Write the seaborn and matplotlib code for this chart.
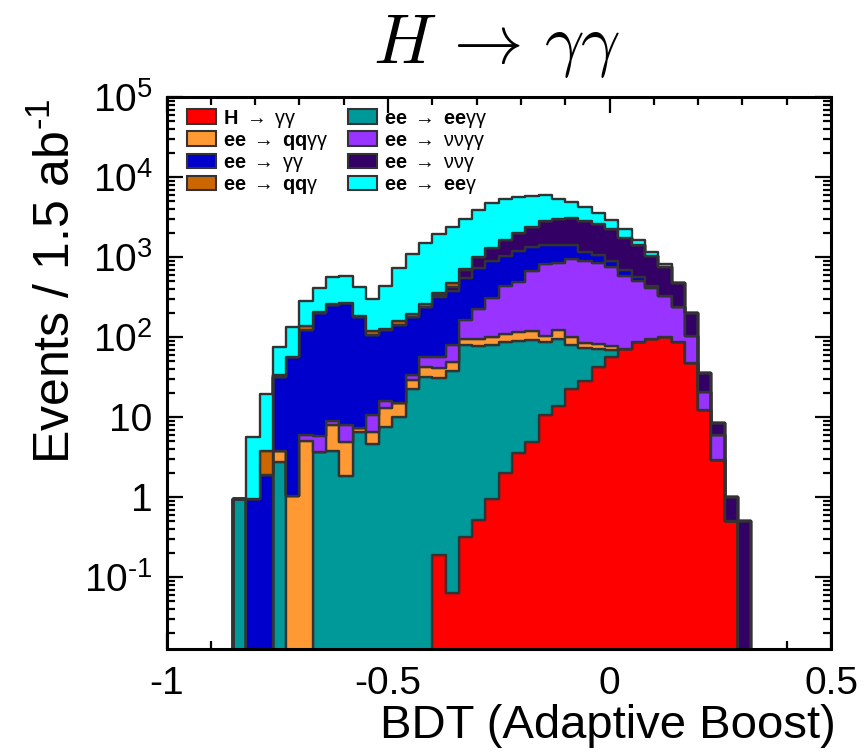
import numpy as np
import pandas as pd
import matplotlib
matplotlib.use("Agg")
import matplotlib.pyplot as plt
import seaborn as sns
from matplotlib.patches import Patch
from matplotlib.ticker import MultipleLocator, LogLocator, FixedLocator, FixedFormatter, NullFormatter

# ---------------- data (events per bin, bins of 0.03 from -0.85 to 0.32) ----------------
bin_width = 0.03
x_min, x_max = -1.0, 0.5
first_bin_low = -0.85

h_gg = [0] * 15 + [0.19, 0.063, 0.316, 0.52, 0.95, 2.0, 3.6, 4.9, 10.7, 13.8, 22.4, 28.7,
                   42.2, 57.5, 72, 88, 95, 101, 88, 48.1, 12.3, 2.9, 0.51, 0]
ee_eegg = [0.95, 0, 0, 2.79, 0, 0, 3.72, 3.8, 1.86, 6.6, 4.7, 7.5, 10.2, 22.4, 32.2, 30.8,
           37.9, 78.7, 76.5, 79, 86, 87.1, 87.6, 77.3, 80.6, 56.6, 45.3, 28.6, 12] + [0] * 10
ee_qqgg = [0, 0, 0, 1.0, 1.04, 5.1, 0, 4.1, 3.04, 0.7, 1.9, 5.5, 5.0, 6.9, 10.8, 10.5, 11.5,
           17, 18, 22, 22, 25.3, 28.5, 17, 30.6, 23, 12, 12.2, 8.5] + [0] * 10
ee_nngg = [0, 0, 0, 0, 0, 0.9, 2.08, 1.17, 3.1, 0, 4.2, 2.8, 0, 4.5, 14.5, 14.5, 31.5, 67,
           130, 208, 323, 379, 556, 724, 723, 846, 804, 770, 678, 505, 422, 315, 229, 148,
           55.9, 8.6, 3.1, 0, 0]
ee_gg = [0, 0.95, 1.9, 28.4, 56.2, 119, 194, 246, 260, 173, 97, 108, 127, 144, 182, 259,
         294, 383, 504, 593, 610, 692, 680, 591, 592, 457, 260, 216, 143, 117, 52, 28,
         0, 0, 0, 0, 0, 0, 0]
ee_nng = [0] * 15 + [20, 50, 144, 271, 404, 587, 808, 1056, 1464, 1557, 1667, 1665, 1528,
                     1351, 1066, 863, 600, 427, 237, 99, 15.2, 2.4, 0.49, 0.51]
ee_qqg = [0, 0, 1.92, 1.8, 0, 13, 5, 7, 4, 4, 12, 4, 16, 17, 25, 23, 56, 15] + [0] * 21
ee_eeg = [0, 4.65, 15.6, 41, 77, 149, 205, 303, 304, 241, 182, 309, 582, 905, 1265, 1597,
          1932, 2280, 2860, 3425, 3700, 3645, 3421, 3126, 2403, 1858, 1415, 951, 700, 480,
          235, 137, 67] + [0] * 6

# stacking order: bottom -> top
proc_names = ["H_gg", "ee_eegg", "ee_qqgg", "ee_nngg", "ee_gg", "ee_nng", "ee_qqg", "ee_eeg"]
proc_values = [h_gg, ee_eegg, ee_qqgg, ee_nngg, ee_gg, ee_nng, ee_qqg, ee_eeg]
proc_colors = ["#ff0000", "#009999", "#ff9933", "#9933ff", "#0000cc", "#330066", "#cc6600", "#00ffff"]
proc_labels = [r"$\mathbf{H}\ \rightarrow\ \mathrm{\gamma\gamma}$",
               r"$\mathbf{ee}\ \rightarrow\ \mathbf{ee}\mathrm{\gamma\gamma}$",
               r"$\mathbf{ee}\ \rightarrow\ \mathbf{qq}\mathrm{\gamma\gamma}$",
               r"$\mathbf{ee}\ \rightarrow\ \mathrm{\nu\nu\gamma\gamma}$",
               r"$\mathbf{ee}\ \rightarrow\ \mathrm{\gamma\gamma}$",
               r"$\mathbf{ee}\ \rightarrow\ \mathrm{\nu\nu\gamma}$",
               r"$\mathbf{ee}\ \rightarrow\ \mathbf{qq}\mathrm{\gamma}$",
               r"$\mathbf{ee}\ \rightarrow\ \mathbf{ee}\mathrm{\gamma}$"]

# ---------------- build table ----------------
n_bins = len(h_gg)
centers = first_bin_low + (np.arange(n_bins) + 0.5) * bin_width
rows = []
for name, vals in zip(proc_names, proc_values):
    for c, v in zip(centers, vals):
        rows.append({"x": c, "w": v, "process": name})
df = pd.DataFrame(rows)

# ---------------- style ----------------
sns.set_theme(style="ticks")
plt.rcParams["font.family"] = ["Liberation Sans", "DejaVu Sans"]
plt.rcParams["mathtext.fontset"] = "custom"
plt.rcParams["mathtext.rm"] = "Liberation Sans"
plt.rcParams["mathtext.it"] = "Liberation Sans:italic"
plt.rcParams["mathtext.bf"] = "Liberation Sans:bold"
plt.rcParams["text.color"] = "black"
plt.rcParams["axes.labelcolor"] = "black"
plt.rcParams["legend.labelcolor"] = "black"

fig = plt.figure(figsize=(8.64, 7.54), dpi=100)
ax = fig.add_axes([166.5 / 864, 1 - 649.3 / 754, (831 - 166.5) / 864, (649.3 - 97.3) / 754])

palette = dict(zip(proc_names, proc_colors))
sns.histplot(data=df, x="x", weights="w", hue="process", hue_order=proc_names[::-1],
             binwidth=bin_width, binrange=(x_min, x_max), multiple="stack", element="step",
             fill=True, palette=palette, alpha=1.0, edgecolor="#333333", linewidth=1.7,
             legend=False, ax=ax)

ax.set_yscale("log")
ax.set_xlim(x_min, x_max)
ax.set_ylim(10 ** -1.9, 1e5)
ax.set_xlabel("")
ax.set_ylabel("")

# ticks
xt = [-1, -0.5, 0, 0.5]
ax.xaxis.set_major_locator(FixedLocator(xt))
ax.xaxis.set_major_formatter(FixedFormatter(["-1", "-0.5", "0", "0.5"]))
ax.xaxis.set_minor_locator(MultipleLocator(0.1))
yt = [0.1, 1, 10, 100, 1000, 1e4, 1e5]
ax.yaxis.set_major_locator(FixedLocator(yt))
ax.yaxis.set_major_formatter(FixedFormatter([r"$10^{\text{-}1}$", "1", "10", r"$10^{2}$",
                                             r"$10^{3}$", r"$10^{4}$", r"$10^{5}$"]))
ax.yaxis.set_minor_locator(LogLocator(base=10, subs=np.arange(2, 10), numticks=20))
ax.yaxis.set_minor_formatter(NullFormatter())
ax.tick_params(which="both", direction="in", top=True, right=True, width=1.6,
               colors="black", labelcolor="black")
ax.tick_params(which="major", length=11.5, labelsize=28)
ax.tick_params(axis="x", which="major", pad=12)
ax.tick_params(axis="y", which="major", pad=10)
ax.tick_params(which="minor", length=5.5)
for s in ax.spines.values():
    s.set_linewidth(2.2)
    s.set_color("black")

# labels
fig.text(497 / 864, 1 - 63.3 / 754, r"$H \,\rightarrow\, \gamma\gamma$", ha="center",
         va="baseline", fontsize=50, math_fontfamily="cm", color="black")
fig.text(836 / 864, 1 - 738 / 754, "BDT (Adaptive Boost)", ha="right", va="baseline",
         fontsize=34, color="black")
fig.text(56 / 864, 1 - 99 / 754, r"Events / 1.5 ab$^{\text{-}1}$", ha="center", va="top",
         rotation=90, fontsize=36, color="black")

# legend (column-wise as in the original)
leg_order = [0, 2, 4, 6, 1, 3, 5, 7]
handles = [Patch(facecolor=proc_colors[i], edgecolor="#333333", linewidth=1.5,
                 label=proc_labels[i]) for i in leg_order]
ax.legend(handles=handles, ncol=2, loc="upper left",
          bbox_to_anchor=(187 / 864, 1 - 107.5 / 754), bbox_transform=fig.transFigure,
          frameon=False, fontsize=14.3, handlelength=1.45, handleheight=0.76,
          handletextpad=0.34, columnspacing=1.0, labelspacing=0.06, borderpad=0,
          borderaxespad=0)

fig.savefig("out.png", dpi=100)
